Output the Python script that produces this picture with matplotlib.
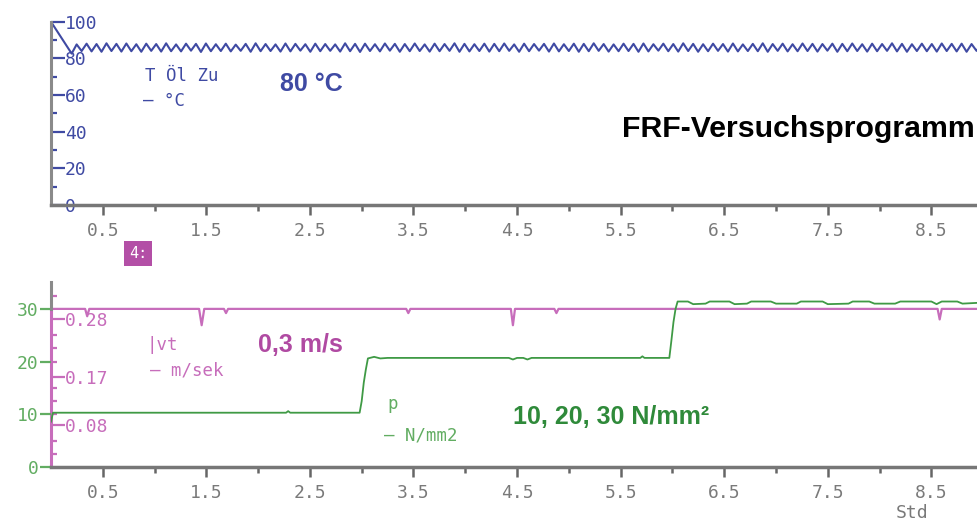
import numpy as np
import matplotlib.pyplot as plt

# oil inlet temperature T Öl Zu [°C]: start value, then extremes of the control oscillation
oil_start = [0.0, 100.0]
oil_t0 = 0.2      # h, first minimum after start-up
oil_dt = 0.048    # h between successive extremes
oil_temp = [
    82.6, 87.6, 84.0, 88.0, 83.8, 87.8, 83.6, 88.2, 84.0, 87.9, 83.7, 88.1, 83.9, 87.7, 83.6, 88.0,
    84.1, 87.8, 83.7, 88.2, 83.9, 87.6, 83.8, 88.0, 84.2, 87.9, 83.5, 88.1, 83.9, 87.7, 84.0, 88.0,
    83.8, 87.5, 84.1, 87.9, 83.6, 88.2, 83.9, 87.8, 84.0, 87.6, 83.7, 88.1, 83.8, 87.9, 84.2, 87.7,
    83.6, 88.0, 83.9, 87.8, 84.1, 87.6, 83.7, 88.2, 83.9, 87.9, 83.5, 88.0, 84.0, 87.7, 83.8, 88.1,
    84.2, 87.9, 83.6, 87.8, 83.9, 88.1, 84.0, 87.6, 83.7, 88.0, 83.9, 87.8, 84.1, 88.2, 83.6, 87.9,
    83.8, 87.7, 84.0, 88.0, 83.7, 87.9, 83.9, 88.1, 84.1, 87.6, 83.6, 88.0, 83.9, 87.8, 84.2, 87.9,
    83.7, 88.1, 83.8, 87.7, 84.0, 88.0, 83.6, 87.9, 83.9, 88.2, 84.1, 87.8, 83.7, 87.6, 83.9, 88.0,
    84.0, 87.9, 83.6, 88.1, 83.8, 87.7, 84.2, 88.0, 83.9, 87.8, 83.7, 88.2, 84.0, 87.9, 83.6, 87.7,
    83.9, 88.0, 84.1, 87.8, 83.7, 88.1, 83.8, 87.6, 84.0, 87.9, 83.9, 88.2, 83.6, 87.8, 84.1, 88.0,
    83.8, 87.7, 83.9, 88.1, 84.0, 87.9, 83.7, 87.8, 84.2, 88.0, 83.6, 87.9, 83.9, 88.1, 84.0, 87.7,
    83.7, 88.0, 83.9, 87.8, 84.1, 88.2, 83.8, 87.9, 83.6, 87.7, 84.0, 88.0, 83.9, 87.8, 83.7, 88.1,
    84.0, 87.9, 83.8, 88.0, 83.6, 87.8, 84.1, 87.9, 83.9, 88.1, 83.7, 87.8, 84.0, 88.0, 83.8, 87.9,
]

# sliding speed vt [m/s]
vt_time = [0.0, 0.0, 0.33, 0.35, 0.37, 1.43, 1.455, 1.48, 1.67, 1.69, 1.71,
           3.43, 3.45, 3.47, 4.44, 4.46, 4.48, 4.86, 4.88, 4.90, 8.56, 8.58, 8.60, 9.0]
vt_val = [0.0, 0.30, 0.30, 0.286, 0.30, 0.30, 0.269, 0.30, 0.30, 0.292, 0.30,
          0.30, 0.292, 0.30, 0.30, 0.269, 0.30, 0.30, 0.292, 0.30, 0.30, 0.280, 0.30, 0.30]

# contact pressure p [N/mm2]
p_time = [0.0, 0.02, 2.27, 2.29, 2.31, 2.98, 3.00, 3.02, 3.04, 3.06, 3.12, 3.18, 3.25,
          4.42, 4.46, 4.50, 4.56, 4.60, 4.64, 5.69, 5.71, 5.73, 5.97, 5.99, 6.01, 6.03, 6.05,
          6.15, 6.20, 6.32, 6.36, 6.55, 6.60, 6.72, 6.76, 6.95, 7.00, 7.20, 7.24, 7.45, 7.50,
          7.70, 7.74, 7.90, 7.95, 8.15, 8.20, 8.50, 8.55, 8.60, 8.75, 8.80, 9.0]
p_val = [8.6, 10.3, 10.3, 10.6, 10.3, 10.3, 12.5, 16.0, 18.5, 20.6, 20.9, 20.6, 20.7,
         20.7, 20.4, 20.7, 20.7, 20.4, 20.7, 20.7, 21.0, 20.7, 20.7, 24.0, 27.5, 30.0, 31.4,
         31.4, 30.9, 31.0, 31.4, 31.4, 30.9, 31.0, 31.4, 31.4, 31.0, 31.0, 31.4, 31.4, 30.9,
         31.0, 31.4, 31.4, 31.0, 31.0, 31.4, 31.4, 30.9, 31.4, 31.4, 31.0, 31.2]

hour_ticks = [0.5, 1.5, 2.5, 3.5, 4.5, 5.5, 6.5, 7.5, 8.5]
hour_minor = [1, 2, 3, 4, 5, 6, 7, 8]
temp_ticks = [0, 20, 40, 60, 80, 100]
temp_minor = [10, 30, 50, 70, 90]
p_ticks = [0, 10, 20, 30]
vt_ticks = [0.08, 0.17, 0.28]
vt_minor = [0.025, 0.05, 0.10, 0.125, 0.15, 0.20, 0.225, 0.25, 0.325]

BLUE = '#3f4aa3'
MAG_LINE = '#c76dbb'
MAG_TEXT = '#b04aa2'
GREEN_LINE = '#3f9a45'
GREEN_TEXT = '#2f8a3a'
GREEN_TICK = '#62ad62'
GREY = '#7a7a7a'
MONO = 'DejaVu Sans Mono'
BOLD = 'Liberation Sans'

fig = plt.figure(figsize=(9.78, 5.24), dpi=100)
ax1 = fig.add_axes([0.0521, 0.6088, 0.9479, 0.3498])
ax2 = fig.add_axes([0.0521, 0.1088, 0.9479, 0.353])
ax3 = ax2.twinx()

# top panel: oil temperature
t_oil = np.r_[oil_start[0], oil_t0 + oil_dt * np.arange(len(oil_temp))]
y_oil = np.r_[oil_start[1], oil_temp]
ax1.plot(t_oil, y_oil, color=BLUE, lw=1.5)
ax1.set_ylim(0, 100)

# bottom panel: pressure (green, left scale) and speed (magenta, inner scale)
ax3.plot(vt_time, vt_val, color=MAG_LINE, lw=1.6)
ax2.plot(p_time, p_val, color=GREEN_LINE, lw=1.3)
ax2.set_ylim(0, 35.1)
ax3.set_ylim(0, 0.351)
ax2.set_zorder(ax3.get_zorder() + 1)
ax2.patch.set_visible(False)

for ax in (ax1, ax2):
    ax.set_xlim(0, 8.95)
    ax.set_xticks(hour_ticks, [f'{v:.1f}' for v in hour_ticks], fontfamily=MONO, fontsize=13)
    ax.set_xticks(hour_minor, minor=True)
    ax.tick_params(axis='x', which='major', length=7, width=1.8, color='#666666',
                   labelcolor=GREY, pad=5)
    ax.tick_params(axis='x', which='minor', length=4, width=1.8, color='#666666')
    for side in ('top', 'right'):
        ax.spines[side].set_visible(False)
    ax.spines['left'].set_color('#8a8a8a')
    ax.spines['left'].set_linewidth(2.2)
    ax.spines['bottom'].set_color('#777777')
    ax.spines['bottom'].set_linewidth(2.5)

# lower left spine: grey above the speed scale, magenta along it
ax2.spines['left'].set_bounds(30, 35.1)
for side in ('top', 'right', 'bottom'):
    ax3.spines[side].set_visible(False)
ax3.spines['left'].set_color(MAG_LINE)
ax3.spines['left'].set_linewidth(2.2)
ax3.spines['left'].set_bounds(0, 0.30)

ax1.set_yticks(temp_ticks, [str(v) for v in temp_ticks], ha='left',
               fontfamily=MONO, fontsize=13)
ax1.set_yticks(temp_minor, minor=True)
ax1.tick_params(axis='y', which='major', direction='in', length=10, width=1.6,
                color=BLUE, labelcolor=BLUE, pad=-10)
ax1.tick_params(axis='y', which='minor', direction='in', length=4, width=1.6, color=BLUE)

ax2.set_yticks(p_ticks, [str(v) for v in p_ticks], fontfamily=MONO, fontsize=13)
ax2.tick_params(axis='y', which='major', direction='out', length=8, width=1.6,
                color=GREEN_TICK, labelcolor=GREEN_TICK, pad=1)

ax3.yaxis.set_ticks_position('left')
ax3.set_yticks(vt_ticks, [f'{v:.2f}' for v in vt_ticks], ha='left',
               fontfamily=MONO, fontsize=13)
ax3.set_yticks(vt_minor, minor=True)
ax3.tick_params(axis='y', which='major', direction='in', length=10, width=1.6,
                color=MAG_LINE, labelcolor=MAG_LINE, pad=-10,
                left=True, right=False, labelleft=True, labelright=False)
ax3.tick_params(axis='y', which='minor', direction='in', length=4, width=1.6,
                color=MAG_LINE, left=True, right=False)

# channel names and set points
ax1.text(0.907, 67.9, 'T Öl Zu', color=BLUE, fontfamily=MONO, fontsize=12.5)
ax1.text(0.888, 54.0, '– °C', color=BLUE, fontfamily=MONO, fontsize=12.5)
ax1.text(2.21, 62.0, '80 °C', color=BLUE, fontfamily=BOLD, fontweight='bold', fontsize=18)
ax1.text(5.51, 37.2, 'FRF-Versuchsprogramm', color='black', fontfamily=BOLD,
         fontweight='bold', fontsize=21.8)

ax2.text(0.927, 22.2, '|vt', color=MAG_LINE, fontfamily=MONO, fontsize=12.5)
ax2.text(0.956, 17.3, '– m/sek', color=MAG_LINE, fontfamily=MONO, fontsize=12.5)
ax2.text(2.0, 21.9, '0,3 m/s', color=MAG_TEXT, fontfamily=BOLD, fontweight='bold', fontsize=18)
ax2.text(3.25, 11.0, 'p', color=GREEN_TICK, fontfamily=MONO, fontsize=12.5)
ax2.text(3.22, 5.1, '– N/mm2', color=GREEN_TICK, fontfamily=MONO, fontsize=12.5)
ax2.text(4.46, 8.2, '10, 20, 30 N/mm²', color=GREEN_TEXT, fontfamily=BOLD,
         fontweight='bold', fontsize=18)

ax2.set_xlabel('Std', fontfamily=MONO, fontsize=13, color=GREY, ha='center')
ax2.xaxis.set_label_coords(0.929, -0.2)

fig.text(0.1411, 0.5162, '4:', ha='center', va='center', color='white',
         fontfamily=MONO, fontsize=11,
         bbox=dict(boxstyle='square,pad=0.3', fc='#b34fa6', ec='none'))

fig.savefig('out.png', dpi=100)
